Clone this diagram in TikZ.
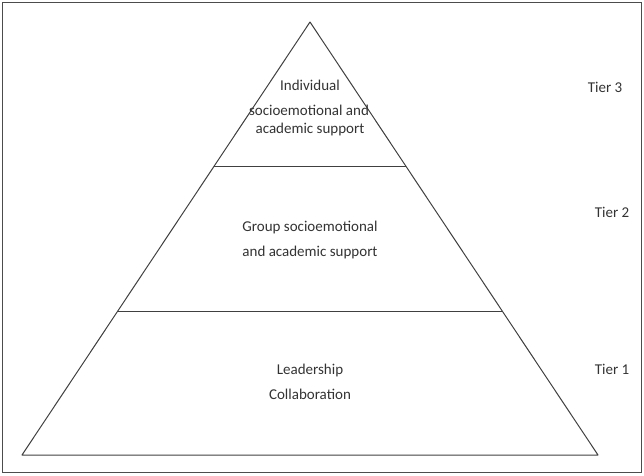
\documentclass[tikz,border=0pt]{standalone}
\usepackage{fontspec}
\setmainfont{Carlito}
\begin{document}
\begin{tikzpicture}[x=1pt,y=-1pt,
  lbl/.style={font=\fontsize{15}{18}\selectfont, text=black!80, inner sep=0pt},
  edge/.style={draw=black!75, line width=1pt}]
\useasboundingbox (0,0) rectangle (644,475);
\draw[draw=black!70, line width=1.5pt] (2.5,2.5) rectangle (641.5,472.5);
\coordinate (apex) at (310,22);
\coordinate (bl) at (22,455);
\coordinate (br) at (598,455);
\coordinate (l1a) at (214.2,166);
\coordinate (l1b) at (405.8,166);
\coordinate (l2a) at (117.8,311);
\coordinate (l2b) at (502.2,311);
\draw[edge, line join=round] (apex) -- (bl) -- (br) -- cycle;
\draw[edge] (l1a) -- (l1b);
\draw[edge] (l2a) -- (l2b);
\node[lbl] (t3a) at (310,85) {Individual};
\node[lbl] (t3b) at (309,110) {socioemotional and};
\node[lbl] (t3c) at (310,129) {academic support};
\node[lbl] (t2a) at (310,227) {Group socioemotional};
\node[lbl] (t2b) at (310,252) {and academic support};
\node[lbl] (t1a) at (310,370) {Leadership};
\node[lbl] (t1b) at (310,394) {Collaboration};
\node[lbl] (tier3) at (605,87) {Tier 3};
\node[lbl] (tier2) at (612,212) {Tier 2};
\node[lbl] (tier1) at (612,369) {Tier 1};
\end{tikzpicture}
\end{document}
